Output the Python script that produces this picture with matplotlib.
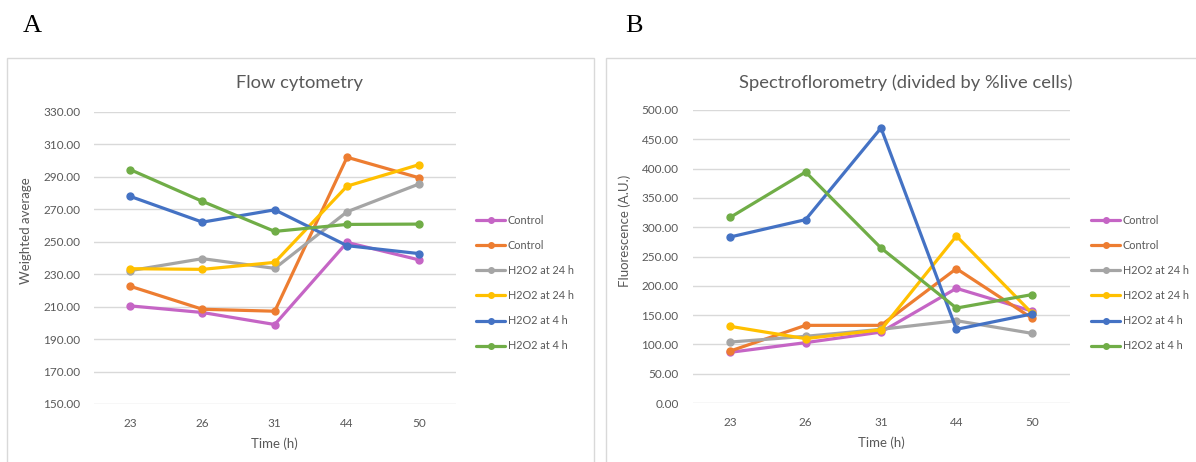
import matplotlib
matplotlib.use("Agg")
import matplotlib.pyplot as plt
from matplotlib.patches import Rectangle

plt.rcParams['font.family'] = ['Lato', 'DejaVu Sans']

times = ['23', '26', '31', '44', '50']
series_names = ['Control', 'Control', 'H2O2 at 24 h', 'H2O2 at 24 h', 'H2O2 at 4 h', 'H2O2 at 4 h']
series_colors = ['#C565C5', '#ED7D31', '#A5A5A5', '#FFC000', '#4472C4', '#70AD47']

# flow cytometry, weighted average
flow_control_1 = [210.5, 206.4, 199.0, 249.6, 238.8]
flow_control_2 = [222.6, 208.4, 207.2, 302.1, 289.4]
flow_h24_1 = [232.2, 239.6, 233.6, 268.5, 285.7]
flow_h24_2 = [233.4, 233.0, 237.3, 284.3, 297.6]
flow_h4_1 = [278.0, 262.1, 269.7, 247.6, 242.7]
flow_h4_2 = [294.5, 274.9, 256.4, 260.7, 260.9]

# spectrofluorometry, divided by %live cells
spec_control_1 = [86.5, 103.0, 121.0, 195.7, 157.0]
spec_control_2 = [88.7, 132.5, 132.5, 229.3, 145.0]
spec_h24_1 = [104.0, 113.8, 125.7, 140.5, 118.9]
spec_h24_2 = [130.8, 109.8, 125.0, 285.0, 153.6]
spec_h4_1 = [283.3, 312.9, 469.3, 125.7, 151.9]
spec_h4_2 = [316.8, 394.2, 264.5, 162.0, 184.9]

flow_series = [flow_control_1, flow_control_2, flow_h24_1, flow_h24_2, flow_h4_1, flow_h4_2]
spec_series = [spec_control_1, spec_control_2, spec_h24_1, spec_h24_2, spec_h4_1, spec_h4_2]

W, H = 1196, 462
fig = plt.figure(figsize=(W / 100, H / 100), dpi=100)

text_gray = '#595959'
grid_gray = '#D9D9D9'

# chart frames
fig.patches.append(Rectangle((6.5 / W, -0.05), 587 / W, 1 - 58 / H + 0.05, transform=fig.transFigure,
                             fill=False, edgecolor=grid_gray, lw=1))
fig.patches.append(Rectangle((605.5 / W, -0.05), 600 / W, 1 - 58 / H + 0.05, transform=fig.transFigure,
                             fill=False, edgecolor=grid_gray, lw=1))


def draw_panel(rect, data, ylim, step, title, ylabel, title_x, legend_x, ylabel_x):
    ax = fig.add_axes(rect)
    x = range(len(times))
    for vals, name, col in zip(data, series_names, series_colors):
        ax.plot(x, vals, color=col, lw=2.3, marker='o', ms=5, label=name, solid_capstyle='round')
    ax.set_xlim(-0.5, len(times) - 0.5)
    ax.set_ylim(*ylim)
    ticks = [ylim[0] + i * step for i in range(int(round((ylim[1] - ylim[0]) / step)) + 1)]
    ax.set_yticks(ticks)
    ax.set_yticklabels([f'{t:.2f}' for t in ticks])
    ax.set_xticks(list(x))
    ax.set_xticklabels(times)
    ax.grid(axis='y', color=grid_gray, lw=1)
    ax.set_axisbelow(True)
    for s in ax.spines.values():
        s.set_visible(False)
    ax.tick_params(length=0, labelsize=8.5, colors=text_gray, pad=10)
    ax.tick_params(axis='x', pad=10)
    ax.set_xlabel('Time (h)', fontsize=9.5, color=text_gray, labelpad=6)
    ax.set_ylabel(ylabel, fontsize=9.5, color=text_gray)
    ax.yaxis.set_label_coords(ylabel_x, 0.5, transform=fig.transFigure)
    fig.text(title_x / W, 1 - 83 / H, title, fontsize=13.2, color=text_gray, ha='center', va='center')
    fig.legend(*ax.get_legend_handles_labels(), loc='upper left',
               bbox_to_anchor=(legend_x / W, 1 - 215 / H), frameon=False,
               fontsize=7.8, labelcolor=text_gray, handlelength=2.7, handletextpad=0.25,
               labelspacing=1.3, borderpad=0, borderaxespad=0, markerscale=0.8)
    return ax


draw_panel([94 / W, 1 - 404 / H, 361.5 / W, 292 / H], flow_series, (150, 330), 20,
           'Flow cytometry', 'Weighted average', 300, 476, 32 / W)
draw_panel([692.5 / W, 1 - 403 / H, 377 / W, 293 / H], spec_series, (0, 500), 50,
           'Spectroflorometry (divided by %live cells)', 'Fluorescence (A.U.)', 906, 1091, 631 / W)

fig.text(32 / W, 1 - 26 / H, 'A', fontsize=19, family='Liberation Serif', ha='center', va='center')
fig.text(634 / W, 1 - 26 / H, 'B', fontsize=19, family='Liberation Serif', ha='center', va='center')

fig.savefig('out.png', dpi=100)
